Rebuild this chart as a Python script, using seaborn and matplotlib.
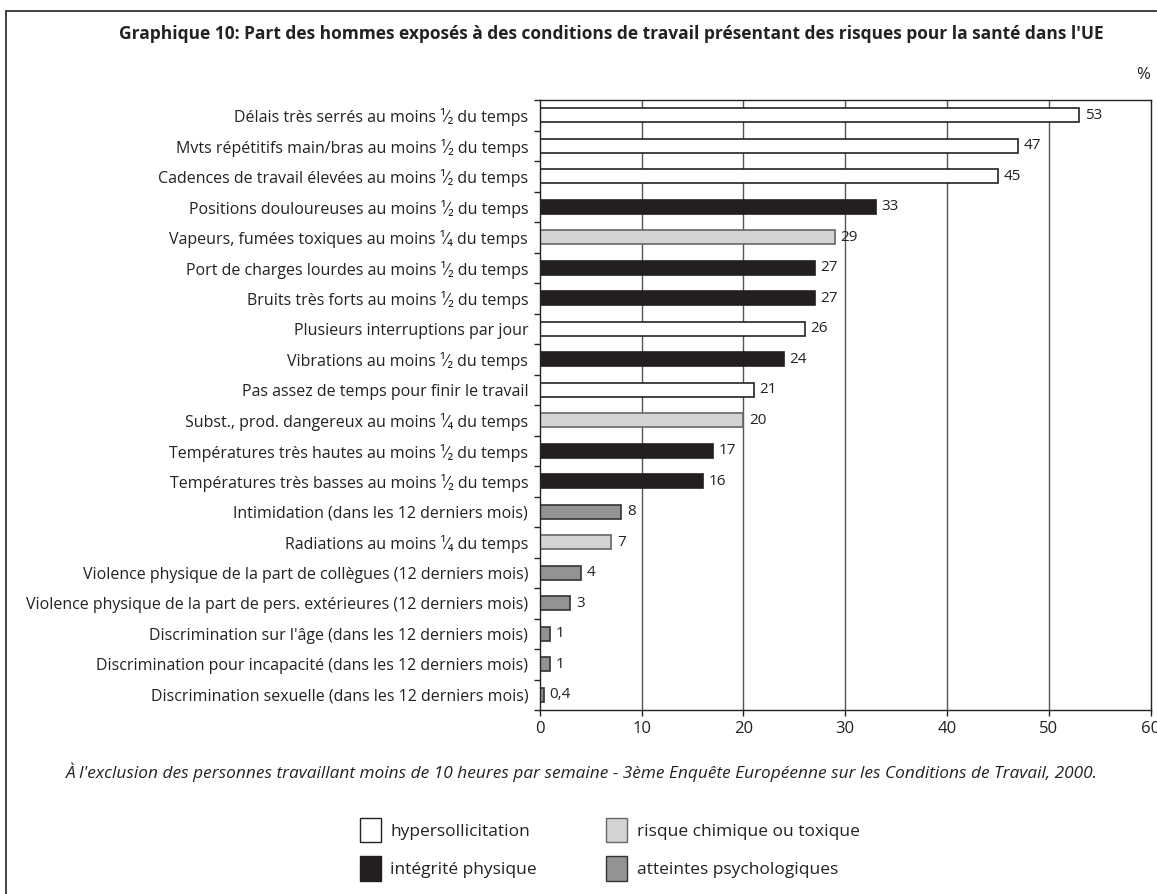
import numpy as np
import pandas as pd
import matplotlib
matplotlib.use("Agg")
from matplotlib import pyplot as plt
from matplotlib.patches import Patch, Rectangle
from matplotlib.ticker import FixedLocator
import seaborn as sns

# data
demi = "\u00b9\u2044\u2082"
quart = "\u00b9\u2044\u2084"
labels = [
    f"Délais très serrés au moins {demi} du temps",
    f"Mvts répétitifs main/bras au moins {demi} du temps",
    f"Cadences de travail élevées au moins {demi} du temps",
    f"Positions douloureuses au moins {demi} du temps",
    f"Vapeurs, fumées toxiques au moins {quart} du temps",
    f"Port de charges lourdes au moins {demi} du temps",
    f"Bruits très forts au moins {demi} du temps",
    "Plusieurs interruptions par jour",
    f"Vibrations au moins {demi} du temps",
    "Pas assez de temps pour finir le travail",
    f"Subst., prod. dangereux au moins {quart} du temps",
    f"Températures très hautes au moins {demi} du temps",
    f"Températures très basses au moins {demi} du temps",
    "Intimidation (dans les 12 derniers mois)",
    f"Radiations au moins {quart} du temps",
    "Violence physique de la part de collègues (12 derniers mois)",
    "Violence physique de la part de pers. extérieures (12 derniers mois)",
    "Discrimination sur l'âge (dans les 12 derniers mois)",
    "Discrimination pour incapacité (dans les 12 derniers mois)",
    "Discrimination sexuelle (dans les 12 derniers mois)",
]
values = [53, 47, 45, 33, 29, 27, 27, 26, 24, 21, 20, 17, 16, 8, 7, 4, 3, 1, 1, 0.4]
groups = ["hyper", "hyper", "hyper", "phys", "chim", "phys", "phys", "hyper", "phys", "hyper",
          "chim", "phys", "phys", "psy", "chim", "psy", "psy", "psy", "psy", "psy"]

group_names = {
    "hyper": "hypersollicitation",
    "phys": "intégrité physique",
    "chim": "risque chimique ou toxique",
    "psy": "atteintes psychologiques",
}
colors = {"hyper": "#ffffff", "phys": "#231f20", "chim": "#d3d3d3", "psy": "#939393"}
edges = {"hyper": "#222222", "phys": "#231f20", "chim": "#666666", "psy": "#333333"}

df = pd.DataFrame({"label": labels, "value": values, "group": groups})

sns.set_style("white")
plt.rcParams["font.family"] = ["Open Sans", "DejaVu Sans"]
plt.rcParams["text.color"] = "#222222"

fig = plt.figure(figsize=(11.57, 8.94), dpi=100)
ax = fig.add_axes([0.4667, 0.2058, 0.5277, 0.6823])

sns.barplot(data=df, x="value", y="label", hue="group", palette=colors, dodge=False,
            width=0.45, orient="h", legend=False, ax=ax, saturation=1)

# edge colours per group + value labels
for cont, g in zip(ax.containers, df["group"].unique()):
    for bar in cont:
        bar.set_edgecolor(edges[g])
        bar.set_linewidth(1.2)
    vals = df.loc[df["group"] == g, "value"].tolist()
    ax.bar_label(cont, labels=[("%g" % v).replace(".", ",") for v in vals],
                 padding=4, fontsize=11, color="#222222")

ax.set_xlim(0, 60)
ax.set_ylim(len(labels) - 0.5, -0.5)
ax.set_xticks(range(0, 61, 10))
ax.tick_params(axis="x", bottom=True, length=4, width=1, color="#222222",
               labelsize=12, pad=4, labelcolor="#222222")
ax.tick_params(axis="y", which="major", left=False, labelsize=11.5, pad=5,
               labelcolor="#222222")
ax.yaxis.set_minor_locator(FixedLocator(np.arange(-0.5, len(labels), 1)))
ax.tick_params(axis="y", which="minor", left=True, length=4, width=1, color="#222222")
ax.set_xlabel("")
ax.set_ylabel("")

for x in range(10, 60, 10):
    ax.axvline(x, color="#555555", lw=1, zorder=0)
for s in ax.spines.values():
    s.set_visible(True)
    s.set_color("#222222")
    s.set_linewidth(1)

fig.text(0.528, 0.962, "Graphique 10: Part des hommes exposés à des conditions de travail présentant des risques pour la santé dans l'UE",
         ha="center", va="center", fontsize=12.5, fontweight="bold")
fig.text(0.994, 0.916, "%", ha="right", va="center", fontsize=12)
fig.text(0.503, 0.136, "À l'exclusion des personnes travaillant moins de 10 heures par semaine - 3ème Enquête Européenne sur les Conditions de Travail, 2000.",
         ha="center", va="center", fontsize=12.4, style="italic")

handles = [Patch(facecolor=colors[g], edgecolor=edges[g], label=group_names[g])
           for g in ["hyper", "phys", "chim", "psy"]]
fig.legend(handles=handles, ncol=2, loc="center", bbox_to_anchor=(0.527, 0.05),
           frameon=False, fontsize=12.5, handlelength=1.2, handleheight=1.8,
           columnspacing=4.0, labelspacing=0.8, handletextpad=0.55)

fig.patches.append(Rectangle((0.005, -0.05), 1.1, 1.038, transform=fig.transFigure,
                             fill=False, edgecolor="#222222", lw=1.2))

fig.savefig("out.png", dpi=100)
